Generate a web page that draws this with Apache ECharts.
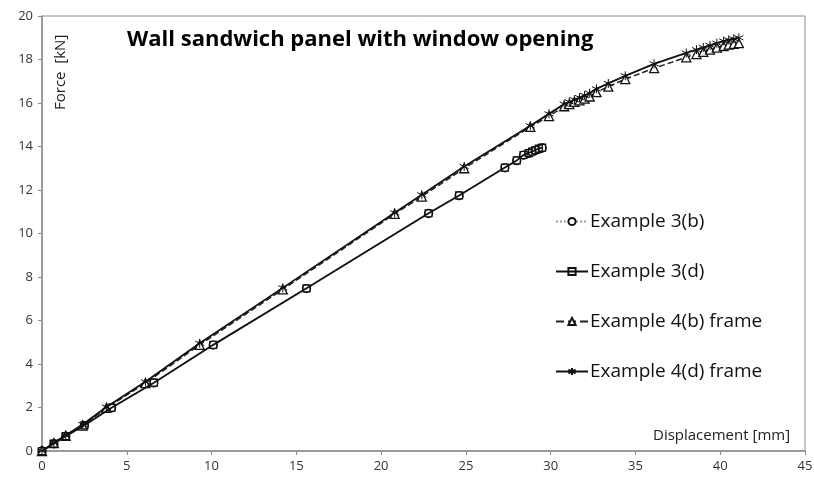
<!DOCTYPE html>
<html>
<head>
<meta charset="utf-8">
<script src="https://cdn.jsdelivr.net/npm/echarts@6/dist/echarts.min.js"></script>
<style>
html,body{margin:0;padding:0;background:#fff;}
#chart{width:814px;height:477px;}
</style>
</head>
<body>
<div id="chart"></div>
<script>
// Displacement [mm] / Force [kN]
var x3b = [0, 0.7, 1.4, 2.5, 4.1, 6.6, 10.1, 15.6, 22.8, 24.6, 27.3, 28.0, 28.4, 28.7, 28.9, 29.1, 29.3, 29.5];
var y3b = [0, 0.33, 0.67, 1.17, 1.98, 3.13, 4.87, 7.47, 10.92, 11.74, 13.02, 13.35, 13.6, 13.68, 13.75, 13.82, 13.88, 13.93];
var x3d = [0, 0.7, 1.4, 2.5, 4.1, 6.6, 10.1, 15.6, 22.8, 24.6, 27.3, 28.0, 28.4, 28.7, 28.9, 29.1, 29.3, 29.5];
var y3d = [0, 0.34, 0.68, 1.18, 1.99, 3.14, 4.88, 7.48, 10.93, 11.75, 13.03, 13.36, 13.61, 13.7, 13.77, 13.84, 13.9, 13.95];
var x4b = [0, 0.7, 1.4, 2.4, 3.8, 6.1, 9.3, 14.2, 20.8, 22.4, 24.9, 28.8, 29.9, 30.8, 31.1, 31.4, 31.7, 32.0, 32.3, 32.7, 33.4, 34.4, 36.1, 38.0, 38.6, 39.0, 39.4, 39.8, 40.2, 40.5, 40.8, 41.1];
var y4b = [0, 0.36, 0.7, 1.17, 1.98, 3.12, 4.88, 7.43, 10.9, 11.7, 13.0, 14.9, 15.4, 15.85, 15.95, 16.05, 16.12, 16.2, 16.3, 16.5, 16.75, 17.1, 17.6, 18.1, 18.25, 18.35, 18.45, 18.55, 18.62, 18.68, 18.72, 18.75];
var x4d = [0, 0.7, 1.4, 2.4, 3.8, 6.1, 9.3, 14.2, 20.8, 22.4, 24.9, 28.8, 29.9, 30.8, 31.1, 31.4, 31.7, 32.0, 32.3, 32.7, 33.4, 34.4, 36.1, 38.0, 38.6, 39.0, 39.4, 39.8, 40.2, 40.5, 40.8, 41.1];
var y4d = [0, 0.38, 0.72, 1.22, 2.02, 3.18, 4.95, 7.5, 10.95, 11.78, 13.08, 14.95, 15.5, 15.95, 16.05, 16.15, 16.25, 16.35, 16.45, 16.65, 16.9, 17.25, 17.8, 18.3, 18.45, 18.55, 18.65, 18.75, 18.85, 18.9, 18.95, 19.0];

var seriesNames = ['Example 3(b)', 'Example 3(d)', 'Example 4(b) frame', 'Example 4(d) frame'];
var titleText = 'Wall sandwich panel with window opening';
var xName = 'Displacement [mm]';
var yName = 'Force  [kN]';

function pairs(xs, ys) { return xs.map(function (x, i) { return [x, ys[i]]; }); }

var starPath = 'path://M5,0 L5,10 M0.7,2.5 L9.3,7.5 M9.3,2.5 L0.7,7.5';
var font = '"Open Sans", "Noto Sans", sans-serif';

var chart = echarts.init(document.getElementById('chart'));
chart.setOption({
  animation: false,
  backgroundColor: '#fff',
  title: {
    text: titleText,
    left: 122, top: 24,
    textStyle: { fontFamily: font, fontSize: 22, fontWeight: 'bold', color: '#000' }
  },
  legend: {
    orient: 'vertical',
    left: 550, top: 207,
    itemGap: 31,
    itemWidth: 32, itemHeight: 9,
    textStyle: { fontFamily: font, fontSize: 19, color: '#111', padding: [0, 0, 0, -3] },
    data: seriesNames
  },
  graphic: [
    {
      type: 'text', left: 653, top: 428, z: 10,
      style: { text: xName, fontFamily: font, fontSize: 15, fill: '#222' }
    },
    {
      type: 'text', x: 53, y: 110, rotation: Math.PI / 2, z: 10,
      style: { text: yName, fontFamily: font, fontSize: 15, fill: '#222', textAlign: 'left', textVerticalAlign: 'top' }
    }
  ],
  grid: {
    left: 42, right: 9, top: 16, bottom: 26,
    outerBoundsMode: 'none',
    containLabel: false,
    show: true, borderColor: '#8c8c8c', borderWidth: 1
  },
  xAxis: {
    type: 'value', min: 0, max: 45, interval: 5,
    axisLine: { lineStyle: { color: '#8c8c8c', width: 1.5 } },
    axisTick: { show: true, length: 4, lineStyle: { color: '#8c8c8c' } },
    axisLabel: { fontFamily: font, fontSize: 13, color: '#333', margin: 9 },
    splitLine: { show: false }
  },
  yAxis: {
    type: 'value', min: 0, max: 20, interval: 2,
    axisLine: { show: true, lineStyle: { color: '#8c8c8c', width: 1.5 } },
    axisTick: { show: true, length: 4, lineStyle: { color: '#8c8c8c' } },
    axisLabel: { fontFamily: font, fontSize: 13, color: '#333', margin: 9 },
    splitLine: { show: false }
  },
  series: [
    {
      name: seriesNames[0], type: 'line', data: pairs(x3b, y3b), z: 2,
      symbol: 'circle', symbolSize: 8, showAllSymbol: true,
      lineStyle: { color: '#9a9a9a', width: 1.5, type: 'dotted' },
      itemStyle: { color: '#fff', borderColor: '#111', borderWidth: 1.3 }
    },
    {
      name: seriesNames[1], type: 'line', data: pairs(x3d, y3d), z: 3,
      symbol: 'rect', symbolSize: 7, showAllSymbol: true,
      lineStyle: { color: '#111', width: 1.8 },
      itemStyle: { color: 'rgba(255,255,255,0)', borderColor: '#111', borderWidth: 1.2 }
    },
    {
      name: seriesNames[2], type: 'line', data: pairs(x4b, y4b), z: 2,
      symbol: 'triangle', symbolSize: 9, showAllSymbol: true,
      lineStyle: { color: '#222', width: 1.5, type: 'dashed' },
      itemStyle: { color: '#fff', borderColor: '#111', borderWidth: 1.3 }
    },
    {
      name: seriesNames[3], type: 'line', data: pairs(x4d, y4d), z: 3,
      symbol: starPath, symbolSize: 9, showAllSymbol: true,
      lineStyle: { color: '#111', width: 1.8 },
      itemStyle: { color: 'rgba(0,0,0,0)', borderColor: '#111', borderWidth: 1 }
    }
  ]
});
</script>
</body>
</html>
